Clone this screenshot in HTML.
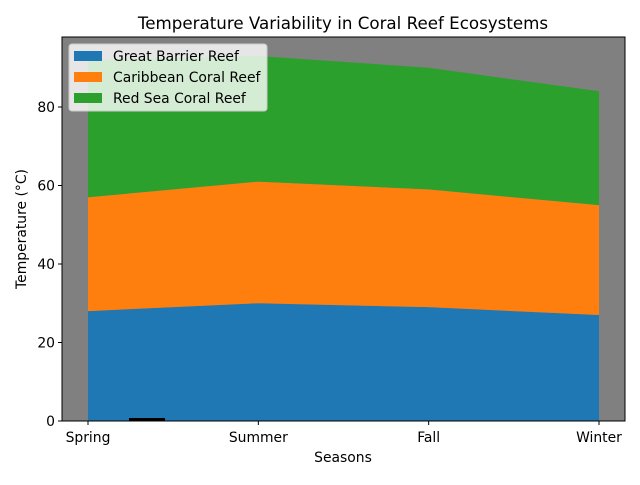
<!DOCTYPE html>
<html><head><meta charset="utf-8"><style>
body{margin:0;background:#fff;font-family:"Liberation Sans","DejaVu Sans",sans-serif}
svg text{font-family:"DejaVu Sans","Liberation Sans",sans-serif}
</style></head><body>
<svg id="c" width="640" height="480" xmlns="http://www.w3.org/2000/svg"></svg>
<script>
const seasons=["Spring","Summer","Fall","Winter"];
const gbr=[28,30,29,27];
const carib=[29,31,30,28];
const redsea=[35,32,31,29];
const yTicks=[0,20,40,60,80];
const names=["Great Barrier Reef","Caribbean Coral Reef","Red Sea Coral Reef"];
const colors=["#1f77b4","#ff7f0e","#2ca02c"];
const NS="http://www.w3.org/2000/svg";
const svg=document.getElementById('c');
const L=62,R=625,T=37,B=421;
const xs=i=>88+i*(599-88)/(seasons.length-1);
const ys=v=>B-v*(421-107)/80;
function mk(t,a,p){const e=document.createElementNS(NS,t);for(const k in a)e.setAttribute(k,a[k]);(p||svg).appendChild(e);return e;}
const bg=mk('rect',{x:L,y:T,width:R-L,height:B-T,fill:'#808080'});


const series=[gbr,carib,redsea];
let base=seasons.map(()=>0);
series.forEach((s,k)=>{
  const top=s.map((v,i)=>base[i]+v);
  let d='M'+seasons.map((_,i)=>xs(i)+','+ys(top[i])).join(' L');
  for(let i=seasons.length-1;i>=0;i--)d+=' L'+xs(i)+','+ys(base[i]);
  const p=mk('path',{d:d+'Z',fill:colors[k]});
  
  
  base=top;
});
const blk=mk('rect',{x:129,y:418,width:36,height:3,fill:'#000'});


mk('rect',{x:L,y:T,width:R-L,height:B-T,fill:'none',stroke:'#000','stroke-width':1});
yTicks.forEach(v=>{
  mk('line',{x1:L-4,x2:L,y1:ys(v),y2:ys(v),stroke:'#000'});
  const t=mk('text',{x:L-7,y:ys(v)+5,'text-anchor':'end','font-size':13.9});
  t.textContent=v;
  
  
});
seasons.forEach((s,i)=>{
  mk('line',{x1:xs(i),x2:xs(i),y1:B,y2:B+4,stroke:'#000'});
  const t=mk('text',{x:xs(i),y:B+21,'text-anchor':'middle','font-size':13.9});
  t.textContent=s;
  
  
});
const xt=mk('text',{x:343,y:462,'text-anchor':'middle','font-size':13.9});xt.textContent='Seasons';


const yt=mk('text',{x:26,y:229,'text-anchor':'middle','font-size':13.9,transform:'rotate(-90 26 229)'});yt.textContent='Temperature (°C)';


const ti=mk('text',{x:343,y:29,'text-anchor':'middle','font-size':16.7});ti.textContent='Temperature Variability in Coral Reef Ecosystems';


const lg=mk('g',{});


mk('rect',{x:69,y:44,width:198,height:67,rx:3,fill:'#fff','fill-opacity':0.8,stroke:'#ccc'},lg);
names.forEach((n,k)=>{
  const y=56+k*21;
  mk('rect',{x:74,y:y-5,width:28,height:10,fill:colors[k]},lg);
  const t=mk('text',{x:113,y:y+5,'font-size':13.9,fill:'#000'},lg);t.textContent=n;
  
  
});
</script>
</body></html>
